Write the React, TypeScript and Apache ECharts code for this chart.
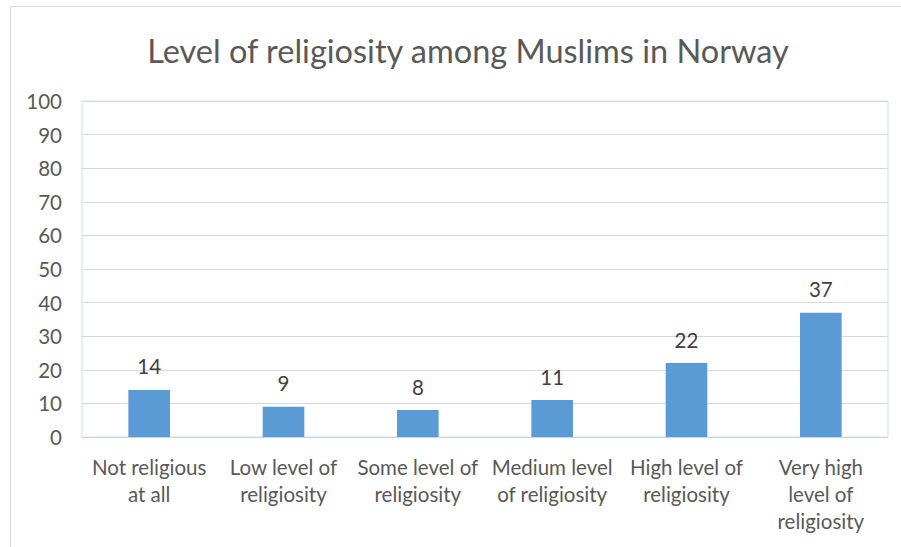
import React, { useEffect, useRef } from "react";
import * as echarts from "echarts";

const categories = [
  "Not religious\nat all",
  "Low level of\nreligiosity",
  "Some level of\nreligiosity",
  "Medium level\nof religiosity",
  "High level of\nreligiosity",
  "Very high\nlevel of\nreligiosity",
];
const values = [14, 9, 8, 11, 22, 37];
const yTicks = { min: 0, max: 100, interval: 10 };
const titleText = "Level of religiosity among Muslims in Norway";

const FONT = "Lato, 'Open Sans', sans-serif";

export default function App() {
  const ref = useRef<HTMLDivElement>(null);

  useEffect(() => {
    if (!ref.current) return;
    const chart = echarts.init(ref.current, undefined, { renderer: "svg" });
    chart.setOption({
      animation: false,
      backgroundColor: "#ffffff",
      title: {
        text: titleText,
        left: 463,
        top: 29,
        textAlign: "center",
        textStyle: {
          fontFamily: FONT,
          fontSize: 32.5,
          fontWeight: "normal",
          color: "#595959",
        },
      },
      graphic: [
        {
          type: "rect",
          shape: { x: 10.5, y: 6.5, width: 1000, height: 1000 },
          style: { fill: "none", stroke: "#D9D9D9", lineWidth: 1 },
          silent: true,
        },
      ],
      grid: {
        left: 82,
        right: 13,
        top: 101,
        bottom: 110,
        show: true,
        borderColor: "#CFDDEE",
        borderWidth: 1,
      },
      xAxis: {
        type: "category",
        data: categories,
        axisTick: { show: false },
        axisLine: { show: true, lineStyle: { color: "#C5D6EC", width: 1 } },
        axisLabel: {
          interval: 0,
          margin: 16,
          fontFamily: FONT,
          fontSize: 20.5,
          lineHeight: 27,
          color: "#595959",
        },
      },
      yAxis: {
        type: "value",
        min: yTicks.min,
        max: yTicks.max,
        interval: yTicks.interval,
        axisLine: { show: false },
        axisTick: { show: false },
        splitLine: { lineStyle: { color: "#D9D9D9", width: 1 } },
        axisLabel: {
          margin: 20,
          fontFamily: FONT,
          fontSize: 20.5,
          color: "#595959",
        },
      },
      series: [
        {
          type: "bar",
          data: values,
          barWidth: "31%",
          itemStyle: { color: "#5B9BD5" },
          label: {
            show: true,
            position: "top",
            distance: 13,
            fontFamily: FONT,
            fontSize: 20.5,
            color: "#404040",
          },
        },
      ],
    });
    return () => chart.dispose();
  }, []);

  return (
    <div
      ref={ref}
      style={{ position: "fixed", left: 0, top: 0, width: 901, height: 547 }}
    />
  );
}
